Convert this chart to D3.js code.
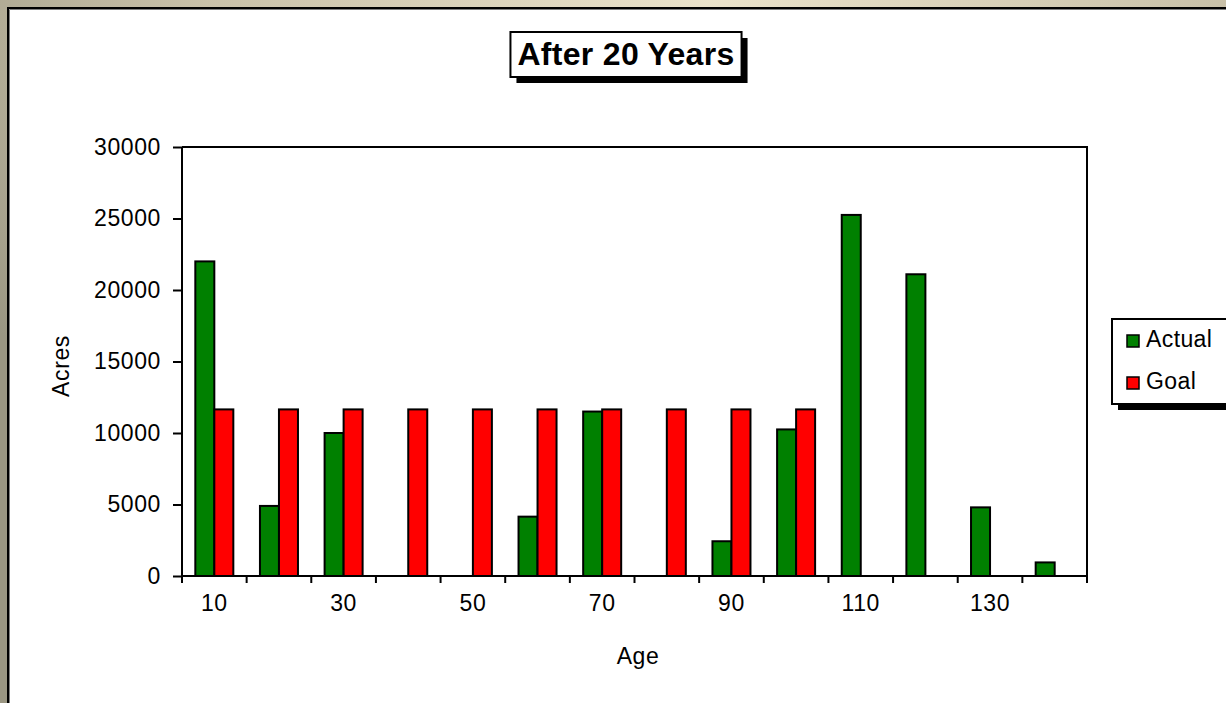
<!DOCTYPE html>
<html>
<head>
<meta charset="utf-8">
<script src="https://cdn.jsdelivr.net/npm/d3@7"></script>
<style>
  html, body { margin: 0; padding: 0; overflow: hidden; }
  svg { display: block; }
  text { font-family: "Liberation Sans", Arial, sans-serif; fill: #000; }
</style>
</head>
<body>
<svg id="chart" width="1226" height="703"></svg>
<script>
// Age classes (years) along the x axis
const ages = [10, 20, 30, 40, 50, 60, 70, 80, 90, 100, 110, 120, 130, 140];
// Acres per age class after 20 years
const actual = [22000, 4900, 10000, 0, 0, 4150, 11500, 0, 2430, 10250, 25250, 21100, 4800, 950];
const goal   = [11650, 11650, 11650, 11650, 11650, 11650, 11650, 11650, 11650, 11650, 0, 0, 0, 0];
const seriesNames = ["Actual", "Goal"];
const seriesColors = ["#008000", "#ff0000"];
const yTicks = [0, 5000, 10000, 15000, 20000, 25000, 30000];
const xTickLabels = [10, 30, 50, 70, 90, 110, 130];

const svg = d3.select("#chart");
const W = 1226, H = 703;
const labelFont = "23px";
const labelSpacing = "0.6px";

// Slide background behind the chart sheet
const defs = svg.append("defs");
const bg = defs.append("radialGradient").attr("id", "bg")
  .attr("cx", 0.58).attr("cy", 0).attr("r", 0.75)
  .attr("gradientUnits", "objectBoundingBox");
bg.append("stop").attr("offset", "0%").attr("stop-color", "#ebe3cb");
bg.append("stop").attr("offset", "55%").attr("stop-color", "#c9c1a9");
bg.append("stop").attr("offset", "100%").attr("stop-color", "#9a9682");
svg.append("rect").attr("width", W).attr("height", H).attr("fill", "url(#bg)");

// Chart sheet
svg.append("rect").attr("x", 9).attr("y", 9).attr("width", W).attr("height", H).attr("fill", "#fff");
svg.append("path").attr("d", `M8,${H}V8H${W}`).attr("fill", "none").attr("stroke", "#000").attr("stroke-width", 2);
svg.append("path").attr("d", `M9.5,${H}V9.5H${W}`).attr("fill", "none").attr("stroke", "#808080").attr("stroke-width", 1);

// Plot area
const plot = { left: 182, right: 1087, top: 147, bottom: 576 };

const x = d3.scaleBand().domain(ages).range([plot.left, plot.right])
  .paddingInner(0.412).paddingOuter(0.206);
const xs = d3.scaleBand().domain(seriesNames).range([0, x.bandwidth()]);
const xEdge = d3.scaleLinear().domain([0, ages.length]).range([plot.left, plot.right]);
const y = d3.scaleLinear().domain([0, 30000]).range([plot.bottom, plot.top]);

// Bars
const data = ages.map((a, i) => ({ age: a, values: [actual[i], goal[i]] }));
const groups = svg.append("g").selectAll("g").data(data).join("g")
  .attr("transform", d => `translate(${x(d.age)},0)`);
groups.selectAll("rect")
  .data(d => d.values.map((v, j) => ({ v, name: seriesNames[j], color: seriesColors[j] })).filter(e => e.v > 0))
  .join("rect")
  .attr("x", e => xs(e.name))
  .attr("width", xs.bandwidth())
  .attr("y", e => y(e.v))
  .attr("height", e => plot.bottom - y(e.v))
  .attr("fill", e => e.color)
  .attr("stroke", "#000")
  .attr("stroke-width", 2);

// Plot border (top and right)
svg.append("path")
  .attr("d", `M${plot.left},${plot.top}H${plot.right}V${plot.bottom}`)
  .attr("fill", "none").attr("stroke", "#000").attr("stroke-width", 2);

// Y axis
const yAxis = svg.append("g").attr("transform", `translate(${plot.left},0)`)
  .call(d3.axisLeft(y).tickValues(yTicks).tickSize(9).tickPadding(12).tickFormat(d3.format("d")));
yAxis.select(".domain").attr("stroke", "#000").attr("stroke-width", 2).attr("d", `M0,${plot.top}V${plot.bottom}`);
yAxis.selectAll(".tick line").attr("stroke", "#000").attr("stroke-width", 2);
yAxis.selectAll("text").style("font-size", labelFont).style("letter-spacing", labelSpacing).attr("font-family", null);

// X axis line and boundary ticks
svg.append("line").attr("x1", plot.left).attr("x2", plot.right)
  .attr("y1", plot.bottom).attr("y2", plot.bottom).attr("stroke", "#000").attr("stroke-width", 2);
svg.append("g").selectAll("line").data(d3.range(ages.length + 1)).join("line")
  .attr("x1", d => xEdge(d)).attr("x2", d => xEdge(d))
  .attr("y1", plot.bottom).attr("y2", plot.bottom + 7)
  .attr("stroke", "#000").attr("stroke-width", 2);

// X tick labels (every other age class)
const xAxis = svg.append("g").attr("transform", `translate(0,${plot.bottom})`)
  .call(d3.axisBottom(x).tickValues(xTickLabels).tickSize(0).tickPadding(19));
xAxis.select(".domain").remove();
xAxis.selectAll("text").style("font-size", labelFont).style("letter-spacing", labelSpacing).attr("font-family", null);

// Axis titles
svg.append("text").attr("x", 638).attr("y", 664).attr("text-anchor", "middle")
  .style("font-size", labelFont).style("letter-spacing", labelSpacing).text("Age");
svg.append("text").attr("transform", "translate(69,366) rotate(-90)").attr("text-anchor", "middle")
  .style("font-size", labelFont).style("letter-spacing", labelSpacing).text("Acres");

// Title with drop-shadow box
const titleG = svg.append("g");
const title = titleG.append("text").attr("x", 626).attr("y", 65).attr("text-anchor", "middle")
  .style("font-size", "32px").style("font-weight", "bold").style("letter-spacing", "0.3px").text("After 20 Years");
const tb = title.node().getBBox();
const box = { x: tb.x - 7, y: 32, w: tb.width + 14, h: 45 };
titleG.insert("rect", "text").attr("x", box.x + 6).attr("y", box.y + 6).attr("width", box.w).attr("height", box.h).attr("fill", "#000");
titleG.insert("rect", "text").attr("x", box.x).attr("y", box.y).attr("width", box.w).attr("height", box.h)
  .attr("fill", "#fff").attr("stroke", "#000").attr("stroke-width", 2);

// Legend
const lg = svg.append("g");
lg.append("rect").attr("x", 1118).attr("y", 325).attr("width", 200).attr("height", 85).attr("fill", "#000");
lg.append("rect").attr("x", 1112).attr("y", 319).attr("width", 200).attr("height", 85)
  .attr("fill", "#fff").attr("stroke", "#000").attr("stroke-width", 2);
const items = lg.selectAll("g.item").data(seriesNames).join("g").attr("class", "item")
  .attr("transform", (d, i) => `translate(1127,${335 + i * 42})`);
items.append("rect").attr("width", 12).attr("height", 12)
  .attr("fill", (d, i) => seriesColors[i]).attr("stroke", "#000").attr("stroke-width", 1.5);
items.append("text").attr("x", 19).attr("y", 12).style("font-size", labelFont).style("letter-spacing", "0.4px").text(d => d);
</script>
</body>
</html>
